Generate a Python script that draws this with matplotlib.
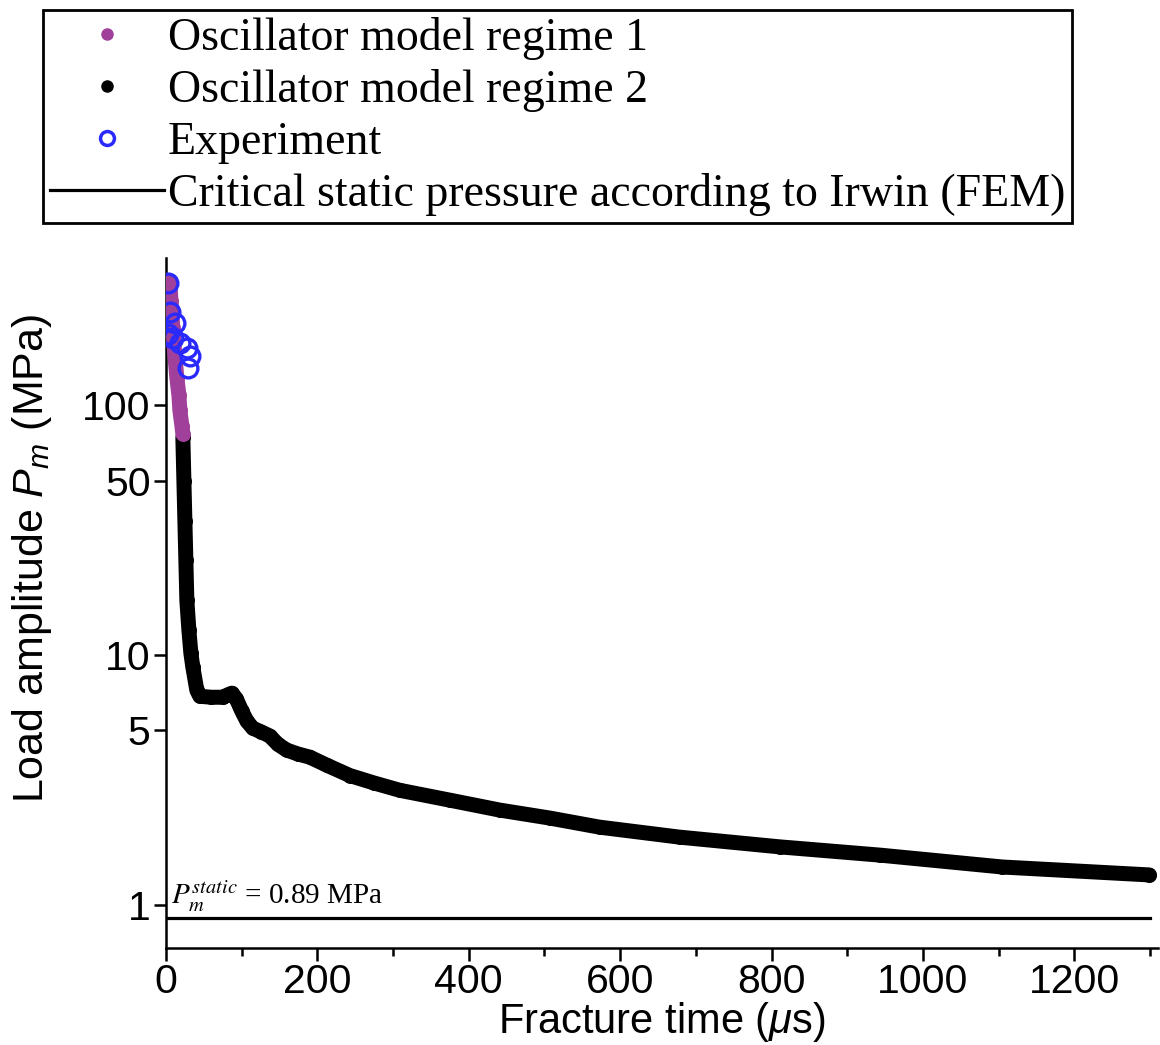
import matplotlib
matplotlib.use("Agg")
import matplotlib.pyplot as plt
from matplotlib.lines import Line2D
from matplotlib.ticker import FixedLocator, NullLocator, MultipleLocator

# ---- data ----
regime1_t = [5.3, 6.6, 9.2, 11.9, 14.5, 17.2, 18.5, 21.1, 22.4]
regime1_p = [316, 263, 205, 158, 129, 110, 95.5, 83, 77]

regime2_t = [22.4, 23.8, 25.1, 26.4, 27.7, 30.4, 33.0, 35.6, 40.9, 44.9, 60, 75.2,
             82.0, 87.1, 93.0, 100, 107, 114.9, 125, 137.3, 148, 159.7, 175, 190,
             212.5, 242.9, 275, 308.9, 374.9, 440.9, 506.9, 572.9, 678.5, 810.6,
             942.6, 1105, 1299]
regime2_p = [74.5, 50, 34.6, 24, 16.6, 12.6, 10.2, 8.96, 7.24, 6.85, 6.79, 6.79,
             6.95, 7.05, 6.7, 6.0, 5.45, 5.1, 4.95, 4.75, 4.4, 4.17, 4.02, 3.91,
             3.63, 3.3, 3.08, 2.88, 2.63, 2.40, 2.23, 2.05, 1.87, 1.71,
             1.585, 1.42, 1.32]

exp_t = [2.6, 5.3, 11.9, 2.6, 9.2, 18.5, 27.7, 31.7, 29.0]
exp_p = [310, 236, 213, 194, 187, 177, 169, 158, 141]

p_static = 0.89
static_t = [0, 1300]

y_ticks = [1, 5, 10, 50, 100]
y_ticklabels = ["1", "5", "10", "50", "100"]
x_ticks = [0, 200, 400, 600, 800, 1000, 1200]

legend_labels = ["Oscillator model regime 1", "Oscillator model regime 2",
                 "Experiment", "Critical static pressure according to Irwin (FEM)"]

purple = "#a0409a"
blue = "#2a2aff"

plt.rcParams["mathtext.fontset"] = "custom"
plt.rcParams["mathtext.rm"] = "Liberation Sans"
plt.rcParams["mathtext.it"] = "Liberation Sans:italic"
plt.rcParams["mathtext.bf"] = "Liberation Sans:bold"

fig = plt.figure(figsize=(11.6, 10.45), dpi=100)
ax = fig.add_axes([0.143, 0.0928, 0.855, 0.66])

lw = 10.8
ax.plot(regime2_t, regime2_p, "-o", color="black", lw=lw, ms=lw, mew=0,
        solid_capstyle="round", solid_joinstyle="round", zorder=3)
ax.plot(regime1_t, regime1_p, "-o", color=purple, lw=lw, ms=lw, mew=0,
        solid_capstyle="round", solid_joinstyle="round", zorder=4)
ax.plot(exp_t, exp_p, "o", mfc="none", mec=blue, mew=2.4, ms=13.5, zorder=5)
ax.plot(static_t, [p_static, p_static], "-", color="black", lw=2.3, zorder=2)

ax.text(7, 0.925, r"$P_m^{static}$ = 0.89 MPa", fontsize=21,
        family="Liberation Serif", math_fontfamily="stix",
        va="bottom", ha="left")

ax.set_yscale("log")
ax.set_xlim(0, 1310)
ax.set_ylim(0.673, 388)
ax.yaxis.set_major_locator(FixedLocator(y_ticks))
ax.set_yticklabels(y_ticklabels)
ax.yaxis.set_minor_locator(NullLocator())
ax.xaxis.set_major_locator(FixedLocator(x_ticks))
ax.xaxis.set_minor_locator(MultipleLocator(100))

for s in ["top", "right"]:
    ax.spines[s].set_visible(False)
for s in ["left", "bottom"]:
    ax.spines[s].set_linewidth(1.8)

sans = "Liberation Sans"
ax.tick_params(axis="both", which="major", direction="out", length=9, width=1.8,
               labelsize=29.5, pad=2)
ax.tick_params(axis="x", which="minor", direction="out", length=6, width=1.8)
for lab in ax.get_xticklabels() + ax.get_yticklabels():
    lab.set_family(sans)

ax.set_xlabel(r"Fracture time ($\mu$s)", fontsize=30, family=sans)
ax.xaxis.set_label_coords(0.5, -0.076)
ax.xaxis.label.set_va("top")
ax.set_ylabel(r"Load amplitude $P_m$ (MPa)", fontsize=31, family=sans)
ax.yaxis.set_label_coords(-0.113, 0.565)

handles = [
    Line2D([], [], ls="none", marker="o", color=purple, ms=8),
    Line2D([], [], ls="none", marker="o", color="black", ms=8),
    Line2D([], [], ls="none", marker="o", mfc="none", mec=blue, mew=2.5, ms=10),
    Line2D([], [], ls="-", color="black", lw=2.3),
]
leg = fig.legend(handles, legend_labels, loc="upper left",
                 bbox_to_anchor=(0.037, 0.99),
                 prop={"family": "Liberation Serif", "size": 33},
                 frameon=True, fancybox=False, edgecolor="black", framealpha=1,
                 handlelength=2.5, handletextpad=0.07, labelspacing=0.2,
                 borderpad=0.15, borderaxespad=0)
leg.get_frame().set_linewidth(2)

fig.savefig("out.png", dpi=100)
